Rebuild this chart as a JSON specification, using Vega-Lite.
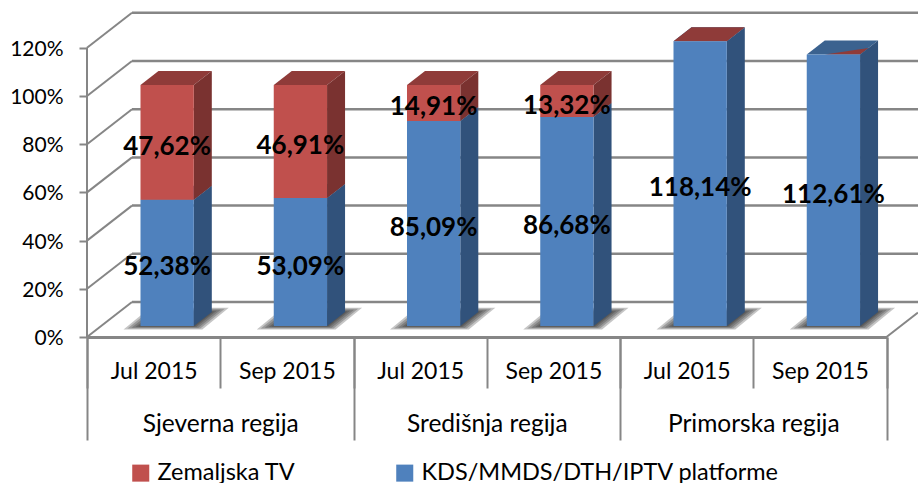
{
"$schema":"https://vega.github.io/schema/vega-lite/v6.json",
"width":831,"height":337,
"autosize":{"type":"none"},
"padding":{"left":87,"top":0,"right":0,"bottom":146},
"background":"white",
"config":{"view":{"stroke":null},"font":"Lato","locale":{"number":{"decimal":",","thousands":".","grouping":[3],"currency":["","€"]}}},
"datasets":{
"bars":[
{"region":"Sjeverna regija","month":"Jul 2015","series":"KDS/MMDS/DTH/IPTV platforme","value":0.5238},
{"region":"Sjeverna regija","month":"Jul 2015","series":"Zemaljska TV","value":0.4762},
{"region":"Sjeverna regija","month":"Sep 2015","series":"KDS/MMDS/DTH/IPTV platforme","value":0.5309},
{"region":"Sjeverna regija","month":"Sep 2015","series":"Zemaljska TV","value":0.4691},
{"region":"Središnja regija","month":"Jul 2015","series":"KDS/MMDS/DTH/IPTV platforme","value":0.8509},
{"region":"Središnja regija","month":"Jul 2015","series":"Zemaljska TV","value":0.1491},
{"region":"Središnja regija","month":"Sep 2015","series":"KDS/MMDS/DTH/IPTV platforme","value":0.8668},
{"region":"Središnja regija","month":"Sep 2015","series":"Zemaljska TV","value":0.1332},
{"region":"Primorska regija","month":"Jul 2015","series":"KDS/MMDS/DTH/IPTV platforme","value":1.1814},
{"region":"Primorska regija","month":"Jul 2015","series":"Zemaljska TV","value":0},
{"region":"Primorska regija","month":"Sep 2015","series":"KDS/MMDS/DTH/IPTV platforme","value":1.1261}
],
"ticks":[{"tick":0},{"tick":0.2},{"tick":0.4},{"tick":0.6},{"tick":0.8},{"tick":1.0},{"tick":1.2}]
},
"data":{"name":"bars"},
"transform":[
{"calculate":"datum.region+'|'+datum.month","as":"cat"},
{"calculate":"indexof(['Sjeverna regija','Središnja regija','Primorska regija'],datum.region)*2+(datum.month=='Sep 2015'?1:0)","as":"idx"},
{"stack":"value","groupby":["cat"],"sort":[{"field":"series","order":"ascending"}],"as":["s0","s1"]},
{"calculate":"datum.idx+0.4015","as":"x0"},
{"calculate":"datum.x0+0.4","as":"x1"}
],
"layer":[
{"encoding":{
"x":{"field":"px","type":"quantitative","scale":{"domain":[0,6.2364],"nice":false,"zero":false},"axis":null},
"y":{"field":"py","type":"quantitative","stack":null,"scale":{"domain":[0,1.3983],"nice":false,"zero":false},
"axis":{"values":[0,0.2,0.4,0.6,0.8,1,1.2],"format":".0%","title":null,"domain":false,"grid":false,"tickColor":"#868686","tickWidth":2,"tickSize":8,"labelPadding":16,"labelFontSize":21,"labelColor":"#000000","labelFont":"Lato","labelOffset":1.5}}
},
"layer":[
{"data":{"name":"ticks"},"transform":[{"calculate":"0.3377","as":"px"},{"calculate":"6.2364","as":"px2"},{"calculate":"datum.tick+0.1452","as":"py"}],
 "mark":{"type":"rule","color":"#868686","strokeWidth":2.5},"encoding":{"x2":{"field":"px2"}}},
{"data":{"name":"ticks"},"transform":[{"calculate":"0","as":"px"},{"calculate":"0.3377","as":"px2"},{"calculate":"datum.tick","as":"py"},{"calculate":"datum.tick+0.1452","as":"py2"}],
 "mark":{"type":"rule","color":"#868686","strokeWidth":2},"encoding":{"x2":{"field":"px2"},"y2":{"field":"py2"}}},
{"data":{"values":[{"a":0}]},"transform":[{"calculate":"6","as":"px"},{"calculate":"6.2364","as":"px2"},{"calculate":"0","as":"py"},{"calculate":"0.1017","as":"py2"}],
 "mark":{"type":"rule","color":"#868686","strokeWidth":2},"encoding":{"x2":{"field":"px2"},"y2":{"field":"py2"}}},
{"data":{"values":[{"a":0}]},"transform":[{"calculate":"0","as":"px"},{"calculate":"0","as":"py"},{"calculate":"1.2","as":"py2"}],
 "mark":{"type":"rule","color":"#868686","strokeWidth":2},"encoding":{"y2":{"field":"py2"}}},
{"transform":[{"filter":"datum.series!='Zemaljska TV'"},
 {"calculate":"[2,5,9,13,17]","as":"m"},{"flatten":["m"]},
 {"calculate":"[0,1,2,3]","as":"k"},{"flatten":["k"]},
 {"calculate":"[datum.x0-datum.m/133.25,datum.x0+0.1351-0.5*datum.m/133.25,datum.x1+0.5*datum.m/133.25,datum.x1+0.1351+datum.m/133.25][datum.k]","as":"px"},
 {"calculate":"0.0456-0.2*datum.m/241","as":"yb"},
 {"calculate":"0.1037+0.25*datum.m/241","as":"yt"},
 {"calculate":"datum.k==3?datum.yt:datum.yb","as":"py"},
 {"calculate":"datum.k==0?datum.yb:datum.yt","as":"py2"}],
 "mark":{"type":"area","color":"#303030","opacity":0.28,"interpolate":"linear"},
 "encoding":{"y2":{"field":"py2"},"detail":[{"field":"idx","type":"nominal"},{"field":"m","type":"nominal"}]}},
{"transform":[{"filter":"datum.series!='Zemaljska TV'"},
 {"calculate":"[0,1,2,3]","as":"k"},{"flatten":["k"]},
 {"calculate":"[datum.x0,datum.x0+0.1351,datum.x1,datum.x1+0.1351][datum.k]","as":"px"},
 {"calculate":"datum.s1+0.0456","as":"yb"},{"calculate":"datum.yb+0.0581","as":"yt"},
 {"calculate":"datum.k==3?datum.yt:datum.yb","as":"py"},{"calculate":"datum.k==0?datum.yb:datum.yt","as":"py2"}],
 "mark":{"type":"area","color":"#3B628F","interpolate":"linear"},
 "encoding":{"y2":{"field":"py2"},"detail":{"field":"idx","type":"nominal"}}},
{"transform":[{"filter":"datum.idx==5"},
 {"calculate":"[0,1,2]","as":"k"},{"flatten":["k"]},
 {"calculate":"[datum.x0+0.1351,datum.x1,datum.x1+0.0675][datum.k]","as":"px"},
 {"calculate":"datum.s1+0.0456+(datum.k==2?0.0274:0)","as":"py"},
 {"calculate":"datum.s1+0.0456+[0,0.022,0.0274][datum.k]","as":"py2"}],
 "mark":{"type":"area","color":"#8F3B39","interpolate":"linear"},
 "encoding":{"y2":{"field":"py2"}}},
{"transform":[{"filter":"datum.series!='Zemaljska TV'"},
 {"calculate":"[0,1]","as":"k"},{"flatten":["k"]},
 {"calculate":"datum.x1+datum.k*0.1351","as":"px"},
 {"calculate":"datum.s0+0.0456+datum.k*0.0581","as":"py"},{"calculate":"datum.s1+0.0456+datum.k*0.0581","as":"py2"}],
 "mark":{"type":"area","color":"#31527B","interpolate":"linear"},
 "encoding":{"y2":{"field":"py2"},"detail":{"field":"idx","type":"nominal"}}},
{"transform":[{"filter":"datum.series=='Zemaljska TV'"},
 {"calculate":"[0,1,2,3]","as":"k"},{"flatten":["k"]},
 {"calculate":"[datum.x0,datum.x0+0.1351,datum.x1,datum.x1+0.1351][datum.k]","as":"px"},
 {"calculate":"datum.s1+0.0456","as":"yb"},{"calculate":"datum.yb+0.0581","as":"yt"},
 {"calculate":"datum.k==3?datum.yt:datum.yb","as":"py"},{"calculate":"datum.k==0?datum.yb:datum.yt","as":"py2"}],
 "mark":{"type":"area","color":"#8F3B39","interpolate":"linear"},
 "encoding":{"y2":{"field":"py2"},"detail":{"field":"idx","type":"nominal"}}},
{"transform":[{"filter":"datum.series=='Zemaljska TV'"},
 {"calculate":"[0,1]","as":"k"},{"flatten":["k"]},
 {"calculate":"datum.x1+datum.k*0.1351","as":"px"},
 {"calculate":"datum.s0+0.0456+datum.k*0.0581","as":"py"},{"calculate":"datum.s1+0.0456+datum.k*0.0581","as":"py2"}],
 "mark":{"type":"area","color":"#7A3230","interpolate":"linear"},
 "encoding":{"y2":{"field":"py2"},"detail":{"field":"idx","type":"nominal"}}},
{"transform":[{"calculate":"datum.x0","as":"px"},{"calculate":"datum.x1","as":"px2"},{"calculate":"datum.s0+0.0456","as":"py"},{"calculate":"datum.s1+0.0456","as":"py2"}],
 "mark":{"type":"rect"},
 "encoding":{"x2":{"field":"px2"},"y2":{"field":"py2"},
 "color":{"field":"series","type":"nominal","scale":{"domain":["Zemaljska TV","KDS/MMDS/DTH/IPTV platforme"],"range":["#C0504D","#4F81BD"]},
  "legend":{"title":null,"orient":"none","legendX":42,"legendY":461,"direction":"horizontal","columns":2,"symbolType":"square","symbolSize":290,"symbolStrokeWidth":0,"labelFontSize":23.5,"labelFont":"Lato","labelColor":"#000000","labelOffset":5,"columnPadding":97,"labelLimit":500}}}},
{"transform":[{"filter":"datum.value>0"},{"calculate":"datum.x0+0.2","as":"px"},{"calculate":"(datum.s0+datum.s1)/2+0.0456-0.0187","as":"py"}],
 "mark":{"type":"text","fontSize":26,"fontWeight":"bold","font":"Lato","color":"#000000","align":"center","baseline":"middle"},
 "encoding":{"text":{"field":"value","type":"quantitative","format":".2%"}}}
]},
{"mark":{"type":"point","opacity":0},
 "encoding":{"x":{"field":"cat","type":"nominal","sort":null,"scale":{"range":[0,799.5],"paddingInner":0,"paddingOuter":0},
  "axis":{"orient":"bottom","title":null,"labelExpr":"split(datum.label,'|')[1]","labelAngle":0,"tickBand":"extent","tickSize":51,"tickWidth":2,"tickColor":"#868686","domain":true,"domainColor":"#868686","domainWidth":3,"grid":false,"labelPadding":-28,"labelFontSize":23,"labelFont":"Lato","labelColor":"#000000","labelOverlap":false}}}},
{"mark":{"type":"point","opacity":0},
 "encoding":{"x":{"field":"region","type":"nominal","sort":null,"scale":{"range":[0,799.5],"paddingInner":0,"paddingOuter":0},
  "axis":{"orient":"bottom","title":null,"labelAngle":0,"tickBand":"extent","tickSize":103,"tickWidth":2,"tickColor":"#868686","domain":false,"grid":false,"labelPadding":-28,"labelFontSize":24.5,"labelFont":"Lato","labelColor":"#000000","labelOverlap":false}}}}
],
"resolve":{"scale":{"x":"independent"},"axis":{"x":"independent"}}
}
